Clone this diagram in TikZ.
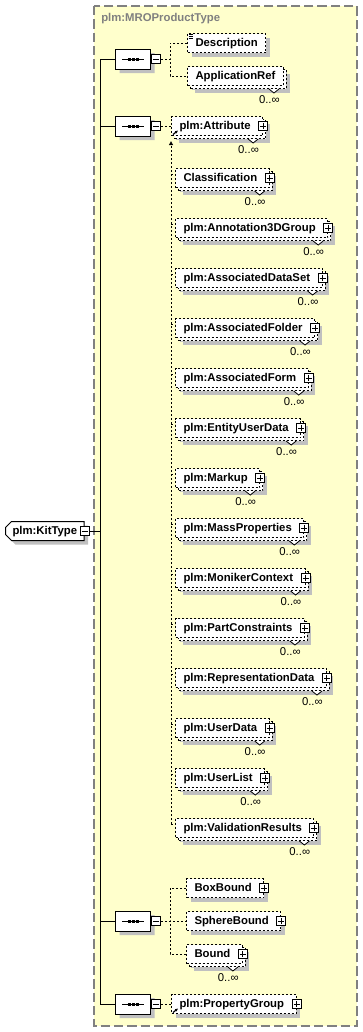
\documentclass[tikz,border=0pt]{standalone}
\usepackage{fontspec}
\setmainfont{Liberation Sans}
\usetikzlibrary{arrows.meta,shapes.misc,shadows}

\definecolor{schemayellow}{RGB}{255,255,204}
\definecolor{shadegrey}{RGB}{192,192,192}
\definecolor{framegrey}{RGB}{128,128,128}

\tikzset{
  conn/.style={line width=.75pt,dash pattern=on 1.5pt off 1.5pt},
  solidline/.style={line width=.75pt},
  boxshadow/.style={general shadow={fill=shadegrey,shadow xshift=3pt,shadow yshift=-3pt}},
  elem/.style={draw,fill=white,line width=.75pt,dash pattern=on 1.5pt off 1.5pt,anchor=west,inner xsep=6pt,inner ysep=0pt,minimum height=14.25pt,text height=6.3pt,text depth=1.7pt,font=\fontsize{8.5}{10}\selectfont\bfseries,boxshadow},
  rep/.style={general shadow={fill=shadegrey,shadow xshift=5.25pt,shadow yshift=-5.25pt},general shadow={fill=white,draw=black,line width=.75pt,dash pattern=on 1.5pt off 1.5pt,shadow xshift=2.25pt,shadow yshift=-2.25pt}},
  expand/.style={execute at end node={\hspace{3pt}}},
  minusbox/.style={draw,solid,fill=white,line width=.75pt,minimum size=6.75pt,inner sep=0pt,path picture={\draw[black,line width=.75pt] ([xshift=-2.25pt]path picture bounding box.center) -- ([xshift=2.25pt]path picture bounding box.center);}},
  plusbox/.style={draw,solid,fill=white,line width=.75pt,minimum size=6.75pt,inner sep=0pt,path picture={\draw[black,line width=.75pt] ([xshift=-2.25pt]path picture bounding box.center) -- ([xshift=2.25pt]path picture bounding box.center) ([yshift=-2.25pt]path picture bounding box.center) -- ([yshift=2.25pt]path picture bounding box.center);}},
  seq/.style={chamfered rectangle,chamfered rectangle corners={north west,south west,north east,south east},chamfered rectangle xsep=3.75pt,chamfered rectangle ysep=3.75pt,draw,solid,fill=white,line width=.75pt,minimum width=26.25pt,minimum height=15pt,inner sep=0pt,anchor=west,boxshadow,path picture={\draw[black,line width=.75pt] ([xshift=-8.25pt]path picture bounding box.center) -- ([xshift=8.25pt]path picture bounding box.center); \foreach \d in {-4.125,-1.125,1.875} \fill[black] ([xshift=\d pt,yshift=-1.125pt]path picture bounding box.center) rectangle ++(2.25pt,2.25pt);}},
  root/.style={chamfered rectangle,chamfered rectangle corners={north west,south west},chamfered rectangle xsep=2.25pt,chamfered rectangle ysep=2.25pt,draw,fill=white,line width=.75pt,anchor=west,inner xsep=3pt,inner ysep=0pt,minimum width=58pt,minimum height=14.25pt,text height=6.3pt,text depth=1.7pt,font=\fontsize{8.5}{10}\selectfont\bfseries,boxshadow},
  notch/.style={fill=white,draw=black,line width=.6pt,solid},
  occurs/.style={anchor=east,inner sep=0pt,font=\fontsize{8.5}{10}\selectfont},
  refmark/.style={-{Latex[length=2.2pt,width=2.4pt]},line width=.9pt,solid}
}

\begin{document}
\begin{tikzpicture}[x=.75pt,y=-.75pt]
\useasboundingbox (0,0) rectangle (363,1032);
\draw[color=framegrey,fill=schemayellow,line width=1.1pt,dash pattern=on 7pt off 3pt] (94,6) rectangle (357,1026);
\node[anchor=west,inner sep=0pt,text=framegrey,font=\fontsize{8.5}{10}\selectfont\bfseries] (ttl) at (101,19) {plm:MROProductType};

% root element and its content model
\node[root] (kit) at (5,531) {plm:KitType};
\node[minusbox] (kit-x) at (kit.east) {};
\coordinate (trunk) at (100,59);

\node[seq] (seqA) at (115,59) {};
\node[seq] (seqB) at (115,126) {};
\node[seq] (seqC) at (115,921) {};
\node[seq] (seqD) at (115,1004) {};
\foreach \s in {seqA,seqB,seqC,seqD}{
  \node[minusbox,anchor=west] (\s-x) at (\s.east) {};
  \draw[solidline] (trunk |- \s.west) -- (\s.west);
}
\draw[solidline] (trunk) -- (trunk |- seqD.west);
\draw[solidline] (kit-x.east) -- (trunk |- kit-x.east);

% first sequence
\node[elem] (desc) at (187,43) {Description};
\foreach \k in {1,3,5} \draw[solidline,line width=.6pt] ([shift={(1.5,\k)}]desc.north west) -- ++(4,0);
\node[elem,rep] (appref) at (187,76) {ApplicationRef};
\draw[notch] ([shift={(-15,3)}]appref.south east) -- ++(5,4) -- ++(5,-4);
\node[occurs] (appref-occ) at ([shift={(-4,14)}]appref.south east) {0..∞};
\coordinate (jA) at (170,59);
\draw[conn] (seqA-x.east) -- (jA);
\draw[conn] (desc.west) -| (jA) |- (appref.west);

% second sequence: plm:Attribute and its substitutes
\node[elem,rep,expand] (attr) at (171,126) {plm:Attribute};
\node[plusbox] (attr-x) at (attr.east) {};
\draw[notch] ([shift={(-15,3)}]attr.south east) -- ++(5,4) -- ++(5,-4);
\node[occurs] (attr-occ) at ([shift={(-4,14)}]attr.south east) {0..∞};
\draw[refmark] ([shift={(2,-1.5)}]attr.south west) -- ++(5,-4);
\draw[conn] (seqB-x.east) -- (attr.west);

\coordinate (sub) at (171,141);
\foreach \c/\t [count=\i] in {178/Classification,228/plm:Annotation3DGroup,278/plm:AssociatedDataSet,328/plm:AssociatedFolder,378/plm:AssociatedForm,428/plm:EntityUserData,478/plm:Markup,528/plm:MassProperties,578/plm:MonikerContext,628/plm:PartConstraints,678/plm:RepresentationData,728/plm:UserData,778/plm:UserList,828/plm:ValidationResults}{
  \node[elem,rep,expand] (mem\i) at (175,\c) {\t};
  \node[plusbox] (mem\i-x) at (mem\i.east) {};
  \draw[notch] ([shift={(-15,3)}]mem\i.south east) -- ++(5,4) -- ++(5,-4);
  \node[occurs] (mem\i-occ) at ([shift={(-4,14)}]mem\i.south east) {0..∞};
  \coordinate (mem\i-tick) at ([shift={(0,-4)}]mem\i.west);
  \draw[conn] (sub |- mem\i-tick) -- (mem\i-tick);
}
\draw[conn,-{Latex[length=3pt,width=3.5pt]}] (sub |- mem14-tick) -- (sub);

% third sequence
\node[elem,expand] (boxb) at (186,888) {BoxBound};
\node[plusbox] (boxb-x) at (boxb.east) {};
\node[elem,expand] (sphb) at (186,921) {SphereBound};
\node[plusbox] (sphb-x) at (sphb.east) {};
\node[elem,rep,expand] (bnd) at (186,954) {Bound};
\node[plusbox] (bnd-x) at (bnd.east) {};
\draw[notch] ([shift={(-15,3)}]bnd.south east) -- ++(5,4) -- ++(5,-4);
\node[occurs] (bnd-occ) at ([shift={(-4,14)}]bnd.south east) {0..∞};
\coordinate (jC) at (170,921);
\draw[conn] (seqC-x.east) -- (sphb.west);
\draw[conn] (boxb.west) -| (jC) |- (bnd.west);

% fourth sequence
\node[elem,expand] (pgrp) at (171,1004) {plm:PropertyGroup};
\node[plusbox] (pgrp-x) at (pgrp.east) {};
\draw[refmark] ([shift={(2,-1.5)}]pgrp.south west) -- ++(5,-4);
\draw[conn] (seqD-x.east) -- (pgrp.west);
\end{tikzpicture}
\end{document}
